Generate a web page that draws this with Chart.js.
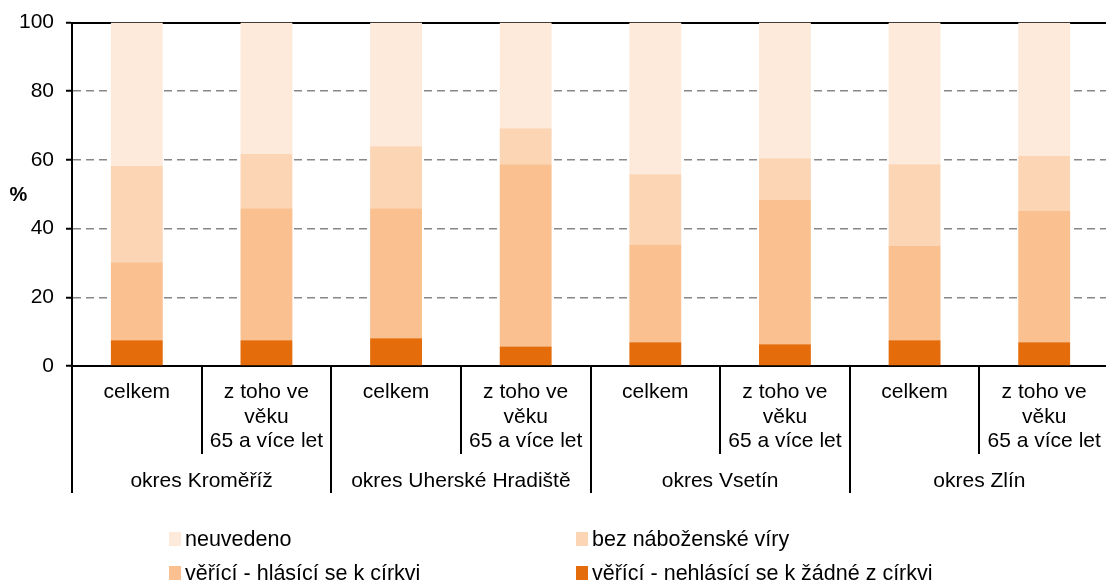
<!DOCTYPE html>
<html>
<head>
<meta charset="utf-8">
<script src="https://cdn.jsdelivr.net/npm/chart.js@4/dist/chart.umd.min.js"></script>
<style>
  html, body { margin: 0; padding: 0; background: #fff; overflow: hidden; width: 1106px; height: 581px; }
  #wrap { position: absolute; left: 0; top: 0; width: 1109px; height: 581px; }
  .lg { position: absolute; height: 26px; display: flex; align-items: center; font-family: "Liberation Sans", Arial, sans-serif; font-size: 21.5px; color: #000; white-space: nowrap; }
  .lg span.b { display: inline-block; width: 12px; height: 14px; margin-right: 4px; }
</style>
</head>
<body>
<div id="wrap"><canvas id="c"></canvas></div>
<div id="legend"></div>
<script>
const categories = [
  'celkem', ['z toho ve', 'věku', '65 a více let'],
  'celkem', ['z toho ve', 'věku', '65 a více let'],
  'celkem', ['z toho ve', 'věku', '65 a více let'],
  'celkem', ['z toho ve', 'věku', '65 a více let']
];
const groups = ['okres Kroměříž', 'okres Uherské Hradiště', 'okres Vsetín', 'okres Zlín'];
const yTicks = [0, 20, 40, 60, 80, 100];

const seriesNames = [
  'věřící - nehlásící se k žádné z církvi',
  'věřící - hlásící se k církvi',
  'bez náboženské víry',
  'neuvedeno'
];
const nehlasici = [7.5, 7.5, 8.1, 5.7, 6.9, 6.3, 7.5, 6.9];
const hlasici   = [22.7, 38.4, 37.8, 53.0, 28.5, 42.0, 27.4, 38.4];
const bezViry   = [28.0, 15.8, 18.1, 10.5, 20.4, 12.2, 23.8, 15.8];
const neuvedeno = [41.8, 38.3, 36.0, 30.8, 44.2, 39.5, 41.3, 38.9];
const colors = ['#E46C0A', '#FAC090', '#FCD5B5', '#FDEADA'];

const FONT = '"Liberation Sans", Arial, sans-serif';

const percentPlugin = {
  id: 'percentLabel',
  afterDraw(chart) {
    const ctx = chart.ctx;
    const y = chart.scales.y.getPixelForValue(50);
    ctx.save();
    ctx.font = 'bold 20px ' + FONT;
    ctx.fillStyle = '#000';
    ctx.textAlign = 'center';
    ctx.textBaseline = 'middle';
    ctx.fillText('%', 18.5, y + 1);
    ctx.restore();
  }
};

const data = {
  labels: categories,
  datasets: [nehlasici, hlasici, bezViry, neuvedeno].map((d, i) => ({
    label: seriesNames[i],
    data: d,
    xAxisID: 'x',
    yAxisID: 'y',
    backgroundColor: colors[i],
    borderWidth: 0,
    barPercentage: 0.4,
    categoryPercentage: 1.0
  }))
};

const chart = new Chart(document.getElementById('c'), {
  type: 'bar',
  data,
  plugins: [percentPlugin],
  options: {
    responsive: true,
    maintainAspectRatio: false,
    animation: false,
    layout: { padding: { top: 20, bottom: 88, left: 0, right: 0 } },
    plugins: { legend: { display: false }, tooltip: { enabled: false } },
    scales: {
      x: {
        type: 'category',
        position: 'bottom',
        stacked: true,
        offset: true,
        grid: { offset: true, drawOnChartArea: false, drawTicks: true, tickLength: 88, color: '#000', lineWidth: 2, tickColor: '#000', tickWidth: 2 },
        border: { display: true, color: '#000', width: 2 },
        ticks: { color: '#000', maxRotation: 0, autoSkip: false, padding: -74, font: { family: FONT, size: 21, lineHeight: 1.17 } },
        afterFit(s) { s.height = 88; }
      },
      xGroup: {
        type: 'category',
        position: 'bottom',
        labels: groups,
        offset: true,
        grid: { offset: true, drawOnChartArea: false, drawTicks: true, tickLength: 39, color: '#000', lineWidth: 2, tickColor: '#000', tickWidth: 2 },
        border: { display: false },
        ticks: { color: '#000', maxRotation: 0, autoSkip: false, padding: -24, font: { family: FONT, size: 21, lineHeight: 1.17 } },
        afterFit(s) { s.height = 39; }
      },
      xTop: {
        type: 'category',
        position: 'top',
        labels: categories,
        offset: true,
        grid: { display: false, drawTicks: false },
        ticks: { display: false },
        border: { display: true, color: '#000', width: 2 },
        afterFit(s) { s.height = 0; }
      },
      y: {
        stacked: true,
        min: 0,
        max: 100,
        afterBuildTicks(s) { s.ticks = yTicks.map(v => ({ value: v })); },
        grid: { color: '#878787', lineWidth: 1.5, drawTicks: true, tickLength: 6, tickColor: '#000', tickWidth: 2, tickBorderDash: [] },
        border: { display: true, color: '#000', width: 2, dash: [8, 5] },
        ticks: { color: '#000', padding: 12, font: { family: FONT, size: 21, lineHeight: 1.0 } },
        afterFit(s) { s.width = 72; }
      }
    }
  }
});

// HTML legend (reverse dataset order, two columns)
const legendSlots = [
  { idx: 3, left: 169, cy: 539 },
  { idx: 2, left: 576, cy: 539 },
  { idx: 1, left: 169, cy: 573 },
  { idx: 0, left: 576, cy: 573 }
];
const lg = document.getElementById('legend');
legendSlots.forEach(s => {
  const d = document.createElement('div');
  d.className = 'lg';
  d.style.left = s.left + 'px';
  d.style.top = (s.cy - 13) + 'px';
  const b = document.createElement('span');
  b.className = 'b';
  b.style.background = colors[s.idx];
  const t = document.createElement('span');
  t.textContent = seriesNames[s.idx];
  d.appendChild(b);
  d.appendChild(t);
  lg.appendChild(d);
});
</script>
</body>
</html>
